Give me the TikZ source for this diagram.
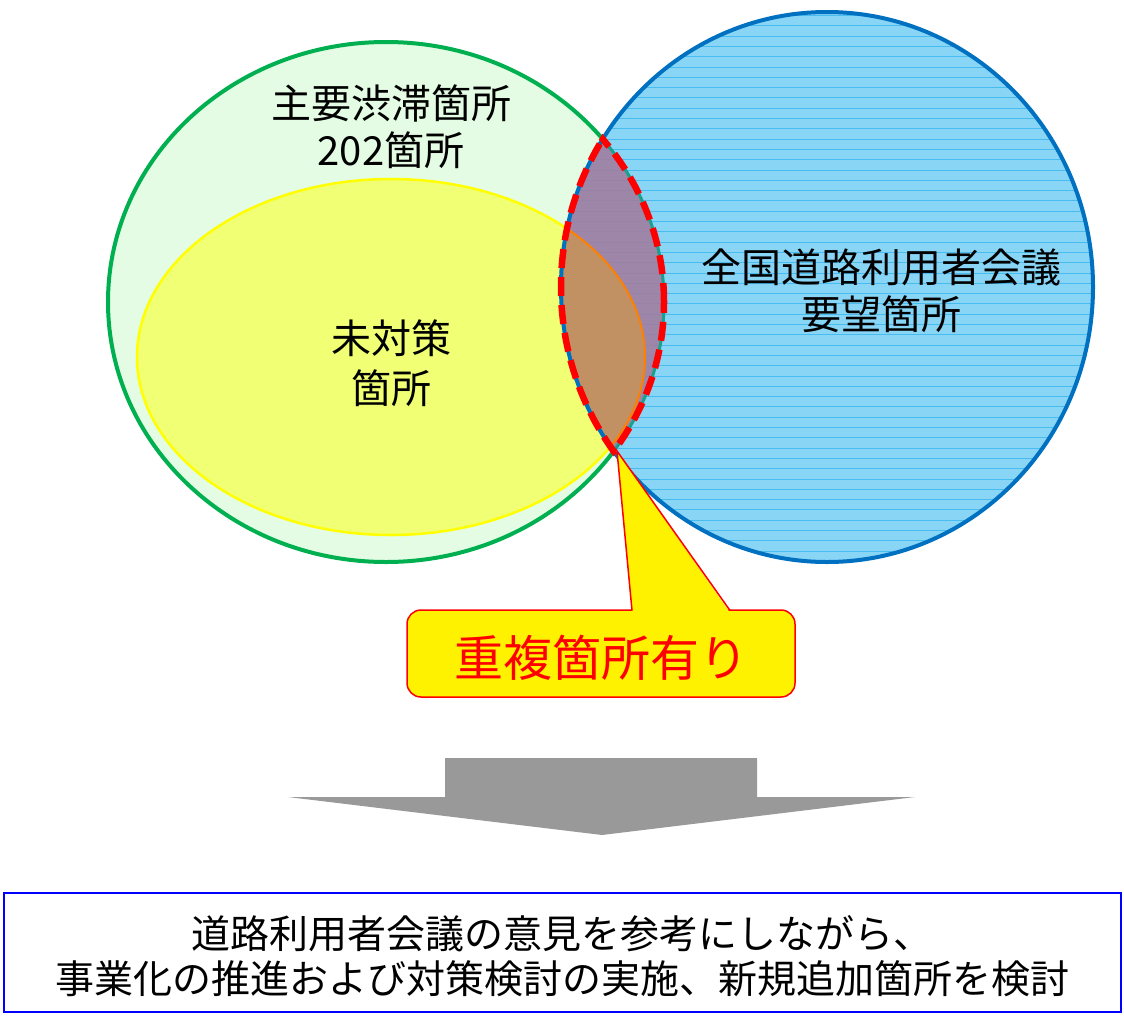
\documentclass[tikz,border=0pt]{standalone}
\usepackage{fontspec}
\setmainfont{Noto Sans CJK JP}
\definecolor{gfill}{HTML}{E3FCE3}
\definecolor{gline}{HTML}{00B050}
\definecolor{yfill}{HTML}{F1FF74}
\definecolor{yline}{HTML}{FFFF00}
\definecolor{bfill}{HTML}{88D5F6}
\definecolor{bline}{HTML}{0070C0}
\definecolor{hatch}{HTML}{38B6EE}
\definecolor{lensA}{HTML}{A27C9E}
\definecolor{lensB}{HTML}{C4935E}
\definecolor{teal}{HTML}{1AA08C}
\definecolor{arrowgray}{HTML}{999999}
\begin{document}
\begin{tikzpicture}[x=1pt,y=-1pt,
  lbl/.style={font=\fontsize{40}{47}\selectfont, align=center, inner sep=0pt, text=black},
  btm/.style={font=\fontsize{39}{45}\selectfont, align=center, inner sep=0pt, text=black},
  reddash/.style={draw=red, line width=6.5pt, dash pattern=on 19pt off 9pt},
]
\useasboundingbox (0,0) rectangle (1124,1017);
% green ellipse
\draw[fill=gfill, draw=gline, line width=4pt] (386,302) ellipse [x radius=278pt, y radius=260pt];
% yellow ellipse
\draw[fill=yfill, draw=yline, line width=2.5pt] (391,357) ellipse [x radius=254pt, y radius=178pt];
% blue circle
\fill[bfill] (827,287) ellipse [x radius=266pt, y radius=275pt];
% hatch lines
\begin{scope}
  \clip (827,287) ellipse [x radius=266pt, y radius=275pt];
  \foreach \yy in {15.5,25.8,...,562} {
    \draw[hatch, line width=0.9pt, opacity=0.8] (555,\yy) -- (1100,\yy);
  }
\end{scope}
% lens fills
\begin{scope}
  \clip (386,302) ellipse [x radius=278pt, y radius=260pt];
  \fill[lensA, opacity=0.88] (827,287) ellipse [x radius=266pt, y radius=275pt];
  \clip (391,357) ellipse [x radius=254pt, y radius=178pt];
  \fill[lensB, opacity=0.92] (827,287) ellipse [x radius=266pt, y radius=275pt];
\end{scope}
% inner edges in lens
\begin{scope}
  \clip (827,287) ellipse [x radius=266pt, y radius=275pt];
  \draw[teal, line width=3pt] (386,302) ellipse [x radius=278pt, y radius=260pt];
  \clip (386,302) ellipse [x radius=278pt, y radius=260pt];
  \draw[orange, line width=2pt] (391,357) ellipse [x radius=254pt, y radius=178pt];
\end{scope}
\draw[bline, line width=4pt] (827,287) ellipse [x radius=266pt, y radius=275pt];
% red dashed lens outline
\begin{scope}
  \clip (386,302) ellipse [x radius=281pt, y radius=263pt];
  \draw[reddash] (827,287) ellipse [x radius=266pt, y radius=275pt];
\end{scope}
\begin{scope}
  \clip (827,287) ellipse [x radius=269pt, y radius=278pt];
  \draw[reddash] (386,302) ellipse [x radius=278pt, y radius=260pt];
\end{scope}
% labels
\node[lbl] (main) at (391,127) {主要渋滞箇所\\202箇所};
\node[lbl, font=\fontsize{40}{50}\selectfont] (mitaisaku) at (391,363) {未対策\\箇所};
\node[lbl] (zenkoku) at (881,291) {全国道路利用者会議\\要望箇所};
% callout
\draw[fill=yellow, draw=red, line width=1.5pt, rounded corners=14pt] (407,610) rectangle (795,697);
\coordinate (tip) at (617,451);
\fill[yellow] (632.5,612) -- (tip) -- (729.5,612) -- cycle;
\draw[red, line width=1.5pt, line join=miter] (632,610.5) -- (tip) -- (730,610.5);
\node[font=\fontsize{49}{55}\selectfont, text=red, inner sep=0pt] (callout) at (601,658) {重複箇所有り};
% big arrow
\fill[arrowgray] (445,758) -- (757,758) -- (757,797) -- (915,797) -- (602,835) -- (288,797) -- (445,797) -- cycle;
% bottom box
\node[draw=blue, line width=2.5pt, minimum width=1117pt, minimum height=119pt, inner sep=0pt] (box) at (562.5,952.5) {};
\node[btm] (boxtext) at (562,956) {道路利用者会議の意見を参考にしながら、\\事業化の推進および対策検討の実施、新規追加箇所を検討};
\end{tikzpicture}
\end{document}
